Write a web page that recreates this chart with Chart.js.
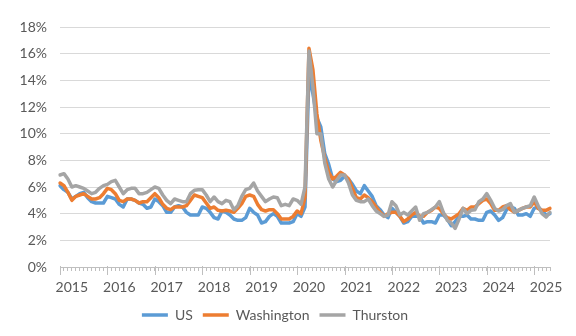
<!DOCTYPE html>
<html>
<head>
<meta charset="utf-8">
<title>Unemployment rate</title>
<script src="https://cdn.jsdelivr.net/npm/chart.js@4.4.1/dist/chart.umd.min.js"></script>
<style>
  html, body { margin: 0; padding: 0; background: #fff; }
  #wrap { width: 576px; height: 336px; }
</style>
</head>
<body>
<div id="wrap"><canvas id="rate-chart" width="576" height="336"></canvas></div>
<script>
// monthly unemployment rate, Jan 2015 - May 2025 (percent)
const years = [2015, 2016, 2017, 2018, 2019, 2020, 2021, 2022, 2023, 2024, 2025];
const monthNames = ['Jan', 'Feb', 'Mar', 'Apr', 'May', 'Jun', 'Jul', 'Aug', 'Sep', 'Oct', 'Nov', 'Dec'];
const lastMonth = 5; // data runs through May 2025

const usRate = [
  6.1, 5.8, 5.6, 5.1, 5.3, 5.5, 5.6, 5.2, 4.9, 4.8, 4.8, 4.8,
  5.3, 5.2, 5.1, 4.7, 4.5, 5.1, 5.1, 5.0, 4.8, 4.7, 4.4, 4.5,
  5.1, 4.9, 4.6, 4.1, 4.1, 4.5, 4.6, 4.5, 4.1, 3.9, 3.9, 3.9,
  4.5, 4.4, 4.1, 3.7, 3.6, 4.2, 4.1, 3.9, 3.6, 3.5, 3.5, 3.7,
  4.4, 4.1, 3.9, 3.3, 3.4, 3.8, 4.0, 3.8, 3.3, 3.3, 3.3, 3.4,
  4.0, 3.8, 4.5, 14.4, 13.0, 11.2, 10.5, 8.5, 7.7, 6.6, 6.4, 6.5,
  6.8, 6.6, 6.2, 5.7, 5.5, 6.1, 5.7, 5.3, 4.6, 4.3, 3.9, 3.7,
  4.4, 4.1, 3.8, 3.3, 3.4, 3.8, 3.8, 3.8, 3.3, 3.4, 3.4, 3.3,
  3.9, 3.9, 3.6, 3.1, 3.4, 3.8, 3.8, 3.9, 3.6, 3.6, 3.5, 3.5,
  4.1, 4.2, 3.9, 3.5, 3.7, 4.3, 4.5, 4.4, 3.9, 3.9, 4.0, 3.8,
  4.4, 4.5, 4.2, 3.9, 4.0
];

const waRate = [
  6.3, 6.1, 5.6, 5.0, 5.3, 5.4, 5.5, 5.3, 5.1, 5.1, 5.2, 5.5,
  5.9, 5.8, 5.5, 5.0, 4.9, 5.1, 5.1, 5.0, 4.8, 4.9, 4.9, 5.2,
  5.5, 5.2, 4.7, 4.4, 4.3, 4.5, 4.5, 4.5, 4.6, 5.0, 5.4, 5.3,
  5.2, 4.8, 4.4, 4.5, 4.25, 4.2, 4.25, 4.2, 4.1, 4.4, 4.75, 5.3,
  5.4, 5.3, 4.7, 4.3, 4.2, 4.3, 4.3, 4.0, 3.6, 3.6, 3.6, 3.8,
  4.2, 4.0, 5.2, 16.4, 14.8, 11.5, 9.5, 8.2, 7.1, 6.6, 6.8, 7.1,
  6.9, 6.6, 5.9, 5.2, 5.1, 5.4, 5.2, 4.9, 4.5, 4.1, 3.8, 4.0,
  4.1, 4.1, 3.8, 3.4, 3.6, 3.9, 4.1, 3.8, 3.8, 4.1, 4.25, 4.5,
  4.4, 4.0, 3.7, 3.6, 3.8, 4.0, 4.4, 4.25, 4.5, 4.5, 4.75, 5.0,
  5.1, 4.75, 4.25, 4.25, 4.5, 4.6, 4.3, 4.1, 4.25, 4.4, 4.5, 4.5,
  4.9, 4.4, 4.25, 4.25, 4.4
];

const thurstonRate = [
  6.9, 7.0, 6.6, 6.0, 6.1, 6.0, 5.9, 5.7, 5.5, 5.6, 5.9, 6.1,
  6.2, 6.4, 6.5, 6.0, 5.5, 5.8, 5.9, 5.9, 5.5, 5.5, 5.6, 5.8,
  6.0, 5.9, 5.4, 5.0, 4.75, 5.1, 5.0, 4.9, 4.9, 5.5, 5.75, 5.8,
  5.8, 5.4, 4.9, 5.25, 4.9, 4.75, 5.0, 4.9, 4.3, 4.6, 5.3, 5.8,
  5.9, 6.3, 5.7, 5.3, 4.9, 5.1, 5.25, 5.2, 4.6, 4.7, 4.6, 5.1,
  5.0, 4.7, 6.0, 16.2, 13.5, 10.0, 10.0, 7.8, 6.6, 6.0, 6.5, 6.9,
  6.9, 6.3, 5.4, 5.0, 4.9, 4.9, 5.1, 4.6, 4.2, 4.0, 3.8, 3.9,
  4.9, 4.6, 3.9, 4.1, 3.9, 4.2, 4.5, 3.5, 4.0, 4.1, 4.3, 4.5,
  4.9, 4.1, 3.5, 3.3, 2.9, 3.6, 4.4, 4.0, 4.25, 4.3, 4.9, 5.1,
  5.5, 5.0, 4.4, 4.2, 4.3, 4.6, 4.75, 4.1, 4.25, 4.4, 4.5, 4.6,
  5.25, 4.6, 4.0, 3.75, 4.1
];

const seriesNames = ['US', 'Washington', 'Thurston'];
const seriesColors = ['#5B9BD5', '#ED7D31', '#A5A5A5'];

const months = [];
years.forEach((year) => {
  const count = year === years[years.length - 1] ? lastMonth : 12;
  for (let m = 0; m < count; m++) months.push(`${monthNames[m]} ${year}`);
});

const textColor = '#595959';
const axisColor = '#BFBFBF';
const font = { family: 'Lato, "Open Sans", sans-serif', size: 14 };

// longer tick marks at each January
const yearTicks = {
  id: 'yearTicks',
  afterDraw(chart) {
    const xScale = chart.scales.x;
    const bottom = chart.chartArea.bottom;
    const ctx = chart.ctx;
    ctx.save();
    ctx.strokeStyle = axisColor;
    ctx.lineWidth = 1;
    months.forEach((label, i) => {
      if (i % 12 !== 0) return;
      const x = Math.round(xScale.getPixelForValue(i)) + 0.5;
      ctx.beginPath();
      ctx.moveTo(x, bottom - 1);
      ctx.lineTo(x, bottom + 8);
      ctx.stroke();
    });
    ctx.restore();
  }
};

const makeDataset = (i, values) => ({
  label: seriesNames[i],
  data: values,
  borderColor: seriesColors[i],
  backgroundColor: seriesColors[i],
  borderWidth: 3.5,
  borderJoinStyle: 'round',
  borderCapStyle: 'round',
  pointRadius: 0,
  tension: 0,
  order: 3 - i
});

const rateChart = new Chart(document.querySelector('#rate-chart').getContext('2d'), {
  type: 'line',
  data: {
    labels: months,
    datasets: [makeDataset(0, usRate), makeDataset(1, waRate), makeDataset(2, thurstonRate)]
  },
  options: {
    responsive: false,
    animation: false,
    layout: { padding: { top: 27, right: 26, bottom: 4, left: 0 } },
    plugins: {
      tooltip: { enabled: false },
      legend: {
        position: 'bottom',
        reverse: true,
        labels: {
          color: textColor,
          font: font,
          usePointStyle: true,
          pointStyle: 'line',
          pointStyleWidth: 26,
          padding: 10
        }
      }
    },
    scales: {
      x: {
        type: 'category',
        offset: false,
        afterFit: (scale) => { scale.height = 31; },
        grid: { drawOnChartArea: false, color: axisColor, tickLength: 4 },
        border: { display: true, color: axisColor },
        ticks: {
          color: textColor,
          font: font,
          autoSkip: false,
          maxRotation: 0,
          minRotation: 0,
          padding: 8,
          callback: (value, index) => (index % 12 === 3 ? String(years[Math.floor(index / 12)]) : '')
        }
      },
      y: {
        min: 0,
        max: 18,
        afterFit: (scale) => { scale.width = 60; },
        grid: { color: '#D9D9D9', drawTicks: false },
        border: { display: false },
        ticks: {
          stepSize: 2,
          color: textColor,
          font: font,
          padding: 13,
          callback: (value) => `${value}%`
        }
      }
    }
  },
  plugins: [yearTicks]
});
</script>
</body>
</html>
